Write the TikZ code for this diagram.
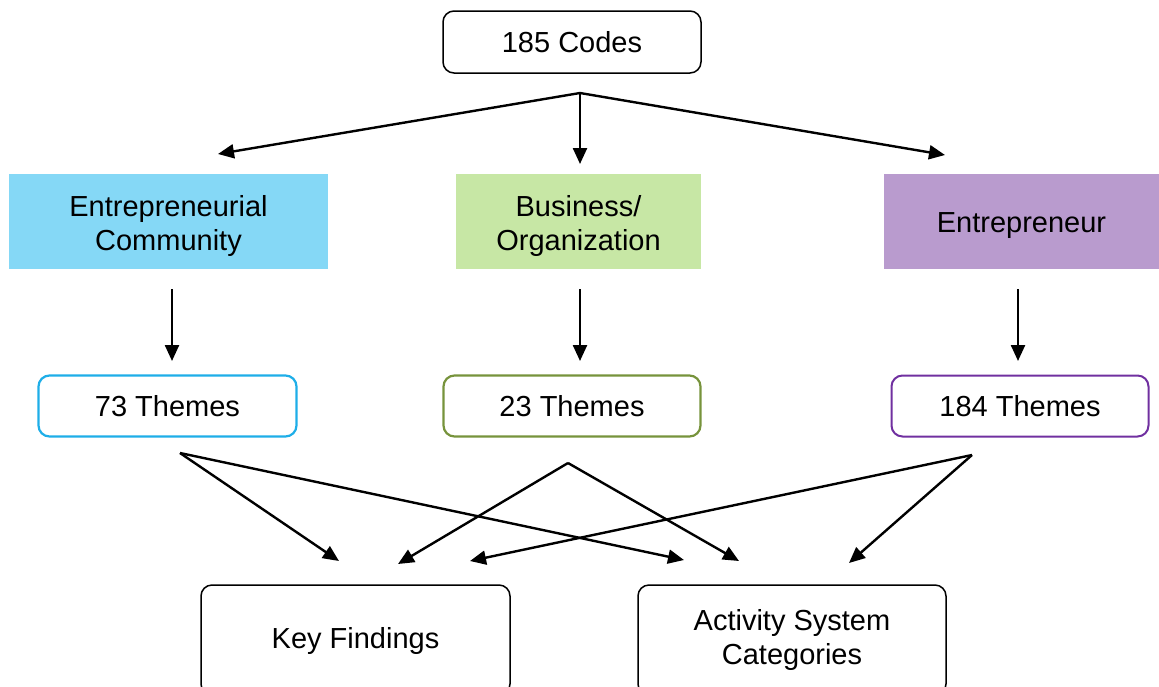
\documentclass[tikz,border=0pt]{standalone}
\usepackage{fontspec}
\setmainfont{Liberation Sans}
\usetikzlibrary{arrows.meta}
\definecolor{cblue}{RGB}{133,216,246}
\definecolor{cgreen}{RGB}{199,231,165}
\definecolor{cpurple}{RGB}{185,155,206}
\definecolor{bblue}{RGB}{30,174,232}
\definecolor{bgreen}{RGB}{119,147,60}
\definecolor{bpurple}{RGB}{112,48,160}
\begin{document}
\begin{tikzpicture}[x=1pt,y=-1pt,
  txt/.style={font=\fontsize{29}{34.5}\selectfont, align=center, text=black, inner sep=0pt},
  rbox/.style={txt, draw, rounded corners=11pt, line width=1.5pt},
  fbox/.style={draw=none, inner sep=0pt},
  arr/.style={line width=2.4pt, -{Triangle[length=16pt,width=14pt]}}]
\useasboundingbox (0,0) rectangle (1159,686);
\begin{scope}
\clip (0,0) rectangle (1159,686);
\node[rbox, minimum width=258pt, minimum height=62pt] (codes) at (572,42) {185 Codes};
\node[fbox, fill=cblue, minimum width=319pt, minimum height=95pt] (ec) at (168.5,221.5) {};
\node[txt] (ecl) at (168.5,226) {Entrepreneurial\\Community};
\node[fbox, fill=cgreen, minimum width=245pt, minimum height=95pt] (bo) at (578.5,221.5) {};
\node[txt] (bol) at (578.5,226) {Business/\\Organization};
\node[fbox, fill=cpurple, minimum width=275pt, minimum height=95pt] (ent) at (1021.5,221.5) {};
\node[txt] (entl) at (1021.5,226) {Entrepreneur};
\node[rbox, draw=bblue, line width=2.2pt, minimum width=258pt, minimum height=61pt] (t73) at (167.5,406) {73 Themes};
\node[rbox, draw=bgreen, line width=2.2pt, minimum width=257pt, minimum height=61pt] (t23) at (572,406) {23 Themes};
\node[rbox, draw=bpurple, line width=2pt, minimum width=257pt, minimum height=61pt] (t184) at (1020,406) {184 Themes};
\node[rbox, minimum width=309pt, minimum height=110pt] (kf) at (355.5,640) {};
\node[txt] (kfl) at (355.5,641) {Key Findings};
\node[rbox, minimum width=308pt, minimum height=110pt] (asc) at (792,640) {Activity System\\Categories};
\end{scope}
% hub coordinates
\coordinate (hub) at (580,93);
\coordinate (ecin) at (218,154);
\coordinate (boin) at (580,164);
\coordinate (entin) at (945,155);
\draw[arr] (hub) -- (ecin);
\draw[arr] (hub) -- (boin);
\draw[arr] (hub) -- (entin);
% vertical
\coordinate (ecout) at (172,289);
\coordinate (t73in) at (172,361);
\coordinate (boout) at (580,289);
\coordinate (t23in) at (580,361);
\coordinate (entout) at (1018,289);
\coordinate (t184in) at (1018,361);
\draw[arr] (ecout) -- (t73in);
\draw[arr] (boout) -- (t23in);
\draw[arr] (entout) -- (t184in);
% bottom
\coordinate (h73) at (180,453);
\coordinate (h23) at (568,463);
\coordinate (h184) at (972,455);
\coordinate (kf1) at (339,561);
\coordinate (kf2) at (398,564);
\coordinate (kf3) at (470,561);
\coordinate (as1) at (684,560);
\coordinate (as2) at (739,561);
\coordinate (as3) at (849,563);
\draw[arr] (h73) -- (kf1);
\draw[arr] (h73) -- (as1);
\draw[arr] (h23) -- (kf2);
\draw[arr] (h23) -- (as2);
\draw[arr] (h184) -- (kf3);
\draw[arr] (h184) -- (as3);
\end{tikzpicture}
\end{document}
